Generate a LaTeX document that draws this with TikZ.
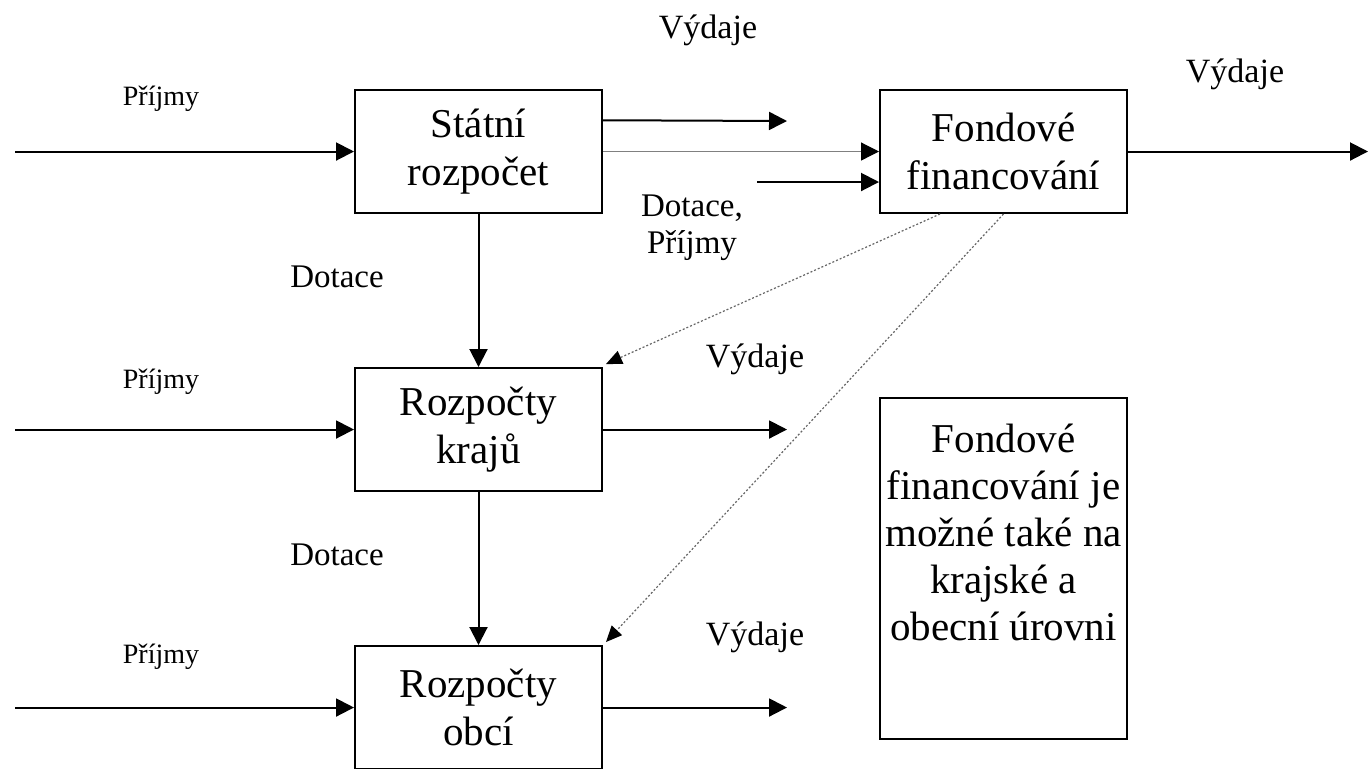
\documentclass[tikz,border=0pt]{standalone}
\usepackage{fontspec}
\setmainfont{Liberation Serif}
\usetikzlibrary{arrows.meta,calc}
\tikzset{
  box/.style={draw, line width=1pt, minimum width=123.5pt, minimum height=61.5pt, inner sep=0pt, align=center, font=\fontsize{20.5}{24}\selectfont, execute at begin node={\rule{0pt}{25pt}}},
  flow/.style={line width=1pt, -{Triangle[length=9pt,width=9pt]}},
  thinflow/.style={line width=0.6pt, draw=gray, -{Triangle[length=9pt,width=9pt,color=black,fill=black]}},
  dotflow/.style={line width=0.6pt, draw=gray!80!black, dash pattern=on 1pt off 1pt, -{Triangle[length=8pt,width=7pt,color=black,fill=black]}},
  lblV/.style={anchor=base, font=\fontsize{17}{20}\selectfont},
  lblD/.style={anchor=base, font=\fontsize{16.5}{19.5}\selectfont, align=center},
  lblP/.style={anchor=base, font=\fontsize{14}{16}\selectfont},
}
\begin{document}
\begin{tikzpicture}[x=0.5pt,y=-0.5pt]
\useasboundingbox (0,0) rectangle (1368,768);
% boxes
\node[box] (sr) at (478.5,151.5) {Státní\\rozpočet};
\node[box] (ff) at (1003.5,151.5) {Fondové\\financování};
\node[box] (rk) at (478.5,429.5) {Rozpočty\\krajů};
\node[box] (ro) at (478.5,707.5) {Rozpočty\\obcí};
\node[draw, line width=1pt, minimum width=123.5pt, minimum height=170.5pt, inner sep=0pt] (note) at (1003.5,568.5) {};
\node[anchor=north, align=center, font=\fontsize{20.5}{23.5}\selectfont, inner sep=0pt] (notetext) at (1003.5,424) {Fondové\\financování je\\možné také na\\krajské a\\obecní úrovni};
% free ends
\coordinate (p1) at (15,151.5);
\coordinate (p2) at (15,429.5);
\coordinate (p3) at (15,707.5);
\coordinate (v1) at (787,121);
\coordinate (v2) at (787,429.5);
\coordinate (v3) at (787,707.5);
\coordinate (v4) at (1368,151.5);
\coordinate (d1) at (757,182);
% inputs
\draw[flow] (p1) -- (sr.west);
\draw[flow] (p2) -- (rk.west);
\draw[flow] (p3) -- (ro.west);
% outputs
\draw[flow] ($(sr.north east)!0.25!(sr.south east)$) -- (v1);
\draw[flow] (rk.east) -- (v2);
\draw[flow] (ro.east) -- (v3);
\draw[flow] (ff.east) -- (v4);
\draw[thinflow] (sr.east) -- (ff.west);
\draw[flow] (d1) -- (d1 -| ff.west);
% vertical
\draw[flow] (sr.south) -- (rk.north);
\draw[flow] (rk.south) -- (ro.north);
% dotted
\draw[dotflow] ($(ff.south west)!0.245!(ff.south east)$) -- ($(rk.north east)+(3,-3)$);
\draw[dotflow] (ff.south) -- ($(ro.north east)+(3,-3)$);
% labels
\node[lblP] (lp1) at (161,105) {Příjmy};
\node[lblP] (lp2) at (161,388) {Příjmy};
\node[lblP] (lp3) at (161,663) {Příjmy};
\node[lblV] (lv1) at (708,38) {Výdaje};
\node[lblV] (lv4) at (1235,82) {Výdaje};
\node[lblV] (lv2) at (755,367) {Výdaje};
\node[lblV] (lv3) at (755,645) {Výdaje};
\node[lblD] (ld1) at (337,287) {Dotace};
\node[lblD] (ld2) at (337,565) {Dotace};
\node[lblD] (ld3) at (692,216) {Dotace,};
\node[lblD] (ld4) at (692,253) {Příjmy};
\end{tikzpicture}
\end{document}
